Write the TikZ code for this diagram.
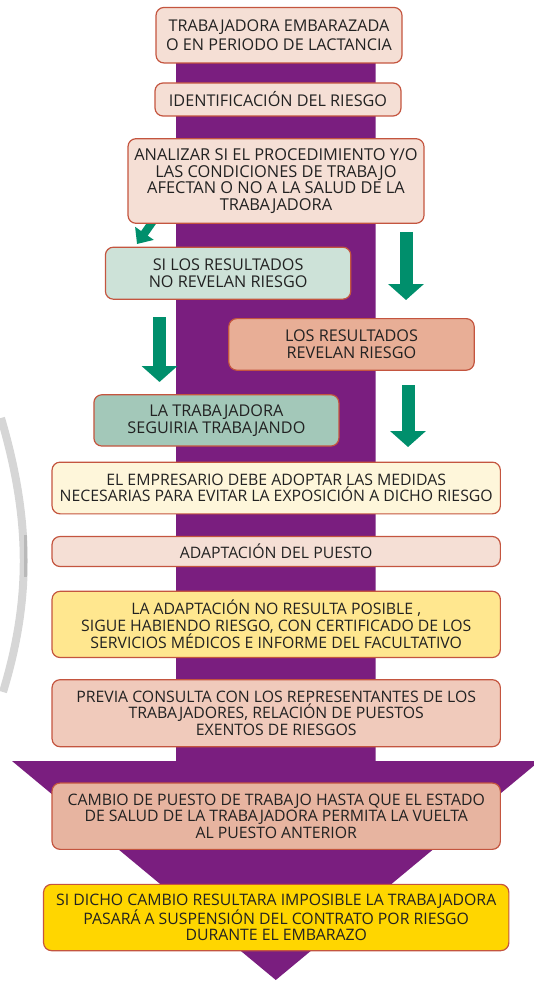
\documentclass[tikz,border=0pt]{standalone}
\usepackage{fontspec}
\setmainfont{Open Sans}
\usetikzlibrary{arrows.meta}
\definecolor{purp}{HTML}{7A1E7F}
\definecolor{grn}{HTML}{008F6C}
\definecolor{boxline}{HTML}{C4553F}
\definecolor{txt}{HTML}{222222}
\definecolor{fpink}{HTML}{F5DFD5}
\definecolor{fmint}{HTML}{CDE2D8}
\definecolor{fsalmon}{HTML}{E8AE96}
\definecolor{fsage}{HTML}{A3C8B9}
\definecolor{fcream}{HTML}{FEF6DA}
\definecolor{fyellow}{HTML}{FFE78F}
\definecolor{frose}{HTML}{F0CABB}
\definecolor{fcoral}{HTML}{E7B4A0}
\definecolor{fgold}{HTML}{FFD600}
\definecolor{wmark}{HTML}{D6D6D6}
\begin{document}
\begin{tikzpicture}[x=1pt,y=-1pt,
  box/.style={draw=boxline, line width=1.2pt, rounded corners=8pt, align=center,
    inner sep=0pt, text=txt, font=\fontsize{15.8}{16.4}\selectfont},
  garrow/.style={draw=grn, line width=13pt, -{Triangle[width=35pt,length=16pt]}},
  smallarrow/.style={draw=grn, line width=8pt, -{Triangle[width=22pt,length=13pt]}}]
\useasboundingbox (0,0) rectangle (533,981);
% watermark arc
\draw[wmark, line width=8pt] (1,418) .. controls (31,520) and (31,600) .. (3,692);
\draw[gray!55, line width=3pt] (25,535) -- (25,577);
% big purple arrow
\fill[purp] (176,40) -- (375.6,40) -- (375.6,761) -- (539.6,761) -- (275.8,980)
  -- (12,761) -- (176,761) -- cycle;
% small diagonal arrow (start hidden under box 3)
\coordinate (d0) at (158,214);
\coordinate (d1) at (137,244);
\draw[smallarrow] (d0) -- (d1);
% boxes
\node[box, fill=fpink, minimum width=246, minimum height=55.5,
  font=\fontsize{16.2}{19.4}\selectfont] (b1) at (279,35.2)
  {TRABAJADORA EMBARAZADA\\O EN PERIODO DE LACTANCIA};
\node[box, fill=fpink, minimum width=246, minimum height=33,
  font=\fontsize{16.2}{19.4}\selectfont] (b2) at (278,99.5)
  {IDENTIFICACIÓN DEL RIESGO};
\node[box, fill=fpink, minimum width=296, minimum height=84.6,
  font=\fontsize{16.4}{16.7}\selectfont] (b3) at (276,181)
  {ANALIZAR SI EL PROCEDIMIENTO Y/O\\LAS CONDICIONES DE TRABAJO\\AFECTAN O NO A LA SALUD DE LA\\TRABAJADORA};
\node[box, fill=fmint, minimum width=245.4, minimum height=52,
  font=\fontsize{16.2}{17}\selectfont] (b4) at (228.1,273.2)
  {SI LOS RESULTADOS\\NO REVELAN RIESGO};
\node[box, fill=fsalmon, minimum width=245.4, minimum height=51.6,
  font=\fontsize{16.2}{16.5}\selectfont] (b5) at (351.5,344.4)
  {LOS RESULTADOS\\REVELAN RIESGO};
\node[box, fill=fsage, minimum width=245, minimum height=51.3,
  font=\fontsize{16.2}{17}\selectfont] (b6) at (216.4,420.4)
  {LA TRABAJADORA\\SEGUIRIA TRABAJANDO};
\node[box, fill=fcream, minimum width=448.3, minimum height=51.7] (b7) at (276.2,488)
  {EL EMPRESARIO DEBE ADOPTAR LAS MEDIDAS\\NECESARIAS PARA EVITAR LA EXPOSICIÓN A DICHO RIESGO};
\node[box, fill=fpink, minimum width=448.3, minimum height=30] (b8) at (276.2,551.5)
  {ADAPTACIÓN DEL PUESTO};
\node[box, fill=fyellow, minimum width=448.3, minimum height=66.2] (b9) at (276.2,624.4)
  {LA ADAPTACIÓN NO RESULTA POSIBLE ,\\SIGUE HABIENDO RIESGO, CON CERTIFICADO DE LOS\\SERVICIOS MÉDICOS E INFORME DEL FACULTATIVO};
\node[box, fill=frose, minimum width=448.3, minimum height=67] (b10) at (276.2,713.2)
  {PREVIA CONSULTA CON LOS REPRESENTANTES DE LOS\\TRABAJADORES, RELACIÓN DE PUESTOS\\EXENTOS DE RIESGOS};
\node[box, fill=fcoral, minimum width=448.3, minimum height=66.3] (b11) at (276.2,816.2)
  {CAMBIO DE PUESTO DE TRABAJO HASTA QUE EL ESTADO\\DE SALUD DE LA TRABAJADORA PERMITA LA VUELTA\\AL PUESTO ANTERIOR};
\node[box, fill=fgold, minimum width=465.3, minimum height=66.3] (b12) at (276.2,917.5)
  {SI DICHO CAMBIO RESULTARA IMPOSIBLE LA TRABAJADORA\\PASARÁ A SUSPENSIÓN DEL CONTRATO POR RIESGO\\DURANTE EL EMBARAZO};
% green block arrows
\coordinate (r1a) at (406,232);
\coordinate (r1b) at (406,300);
\coordinate (l1a) at (159.5,317);
\coordinate (l1b) at (159.5,382);
\coordinate (r2a) at (408,385);
\coordinate (r2b) at (408,447);
\draw[garrow] (r1a) -- (r1b);
\draw[garrow] (l1a) -- (l1b);
\draw[garrow] (r2a) -- (r2b);
\end{tikzpicture}
\end{document}
